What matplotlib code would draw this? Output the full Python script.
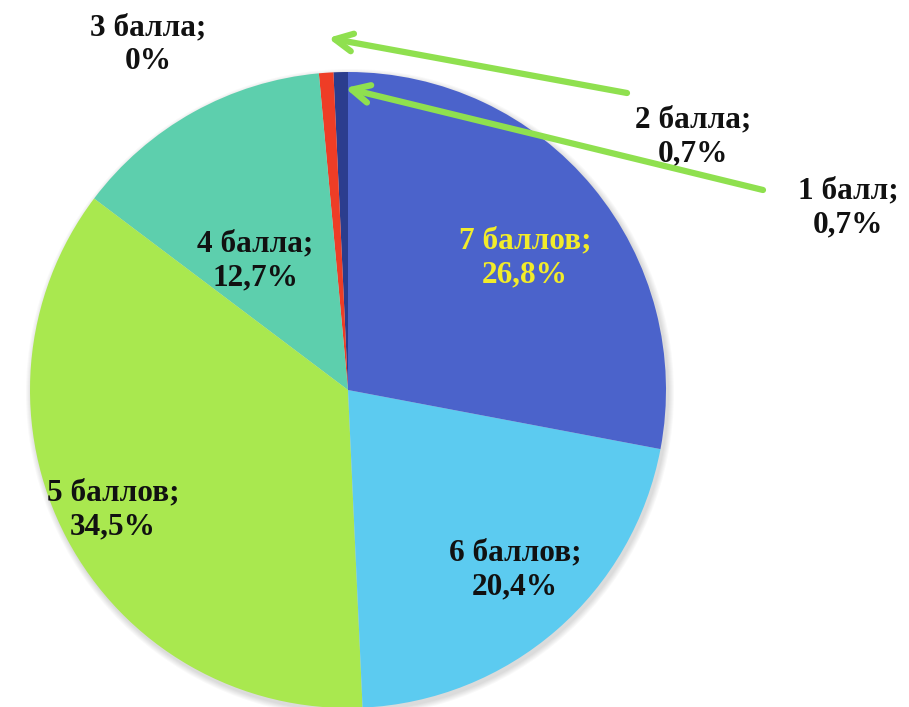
import matplotlib.pyplot as plt
from matplotlib.patches import Circle

# Данные: распределение оценок (баллы)
categories = ["1 балл", "2 балла", "3 балла", "4 балла", "5 баллов", "6 баллов", "7 баллов"]
percents = [0.7, 0.7, 0.0, 12.7, 34.5, 20.4, 26.8]
percent_labels = ["0,7%", "0,7%", "0%", "12,7%", "34,5%", "20,4%", "26,8%"]

colors = ["#2b3d8e", "#ee3d26", "#8a8a8a", "#5dcfad", "#a9e84f", "#5ccbf0", "#4b63cb"]
label_colors = ["#111111"] * 6 + ["#f2ec2a"]

# posiciones de las etiquetas (pixeles de la imagen, y hacia abajo)
label_pos = [(848, 208), (693, 137), (148, 45), (255, 261), (113, 510), (515, 570), (525, 258)]

W, H = 909, 707
fig = plt.figure(figsize=(W / 100, H / 100), dpi=100)
ax = fig.add_axes([0, 0, 1, 1])

cx, cy, r = 348, H - 390, 318

# sombra suave
for k in range(6, 0, -1):
    ax.add_patch(Circle((cx + 2, cy - 3), r + k, color="black", alpha=0.025, lw=0, zorder=0))

ax.pie(percents, colors=colors, startangle=90, counterclock=True,
       center=(cx, cy), radius=r, wedgeprops=dict(linewidth=0, zorder=1))

for cat, pl, (x, y), c in zip(categories, percent_labels, label_pos, label_colors):
    ax.text(x, H - y, f"{cat};\n{pl}", ha="center", va="center", fontsize=22.5,
            fontweight="bold", family="Liberation Serif", color=c,
            linespacing=1.22, zorder=5)

# flechas verdes hacia los sectores pequeños
arrows = [((627, 93), (328, 38)), ((763, 190), (345, 88))]
for (tx, ty), (hx, hy) in arrows:
    ax.annotate("", xy=(hx, H - hy), xytext=(tx, H - ty),
                arrowprops=dict(arrowstyle="->", color="#8fe04f", lw=4.5,
                                mutation_scale=32, shrinkA=0, shrinkB=0),
                zorder=6)

ax.set_xlim(0, W)
ax.set_ylim(0, H)
ax.set_aspect("equal")
ax.axis("off")

fig.savefig("out.png", dpi=100)
